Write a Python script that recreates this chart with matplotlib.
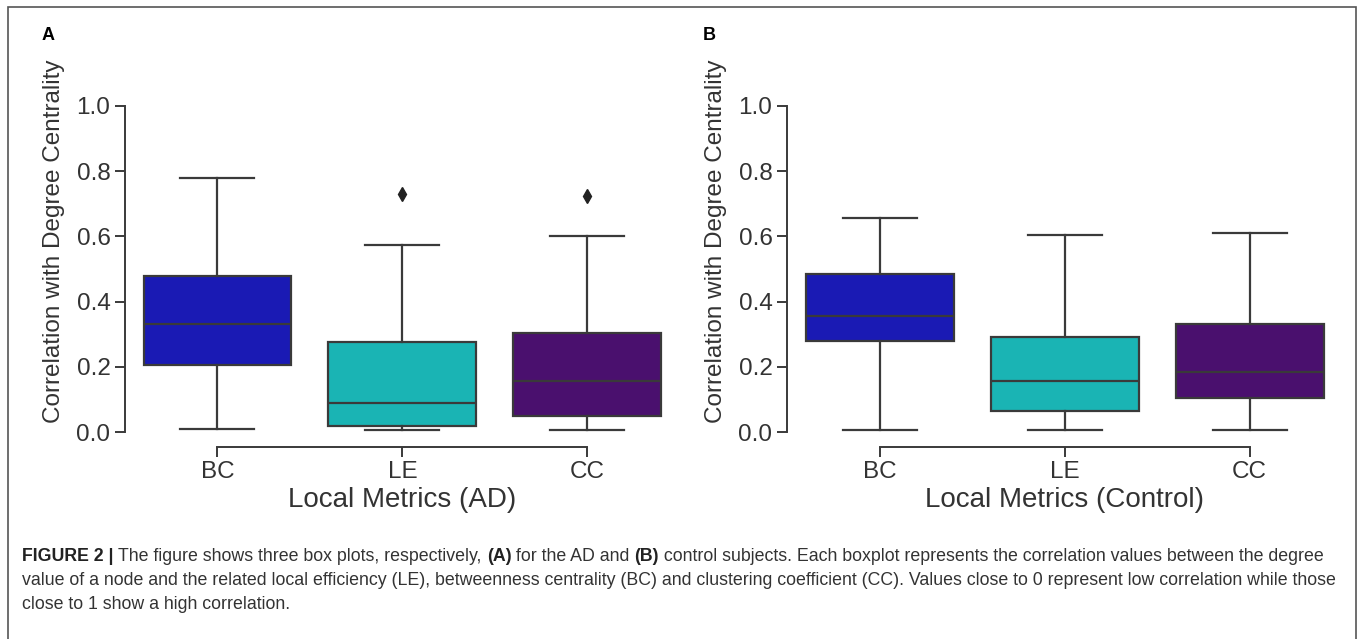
import matplotlib.pyplot as plt
from matplotlib.patches import Rectangle

plt.rcParams['font.family'] = ['Liberation Sans', 'DejaVu Sans']

metrics = ['BC', 'LE', 'CC']
colors = ['#1a1ab4', '#1ab4b4', '#4a106e']

# AD group: whisker low, Q1, median, Q3, whisker high, outliers
ad_whislo = [0.01, 0.005, 0.005]
ad_q1 = [0.205, 0.02, 0.048]
ad_med = [0.33, 0.09, 0.155]
ad_q3 = [0.48, 0.275, 0.305]
ad_whishi = [0.78, 0.575, 0.60]
ad_fliers = [[], [0.73], [0.725]]

# Control group
ct_whislo = [0.005, 0.005, 0.005]
ct_q1 = [0.28, 0.065, 0.105]
ct_med = [0.355, 0.155, 0.185]
ct_q3 = [0.485, 0.29, 0.33]
ct_whishi = [0.655, 0.605, 0.61]
ct_fliers = [[], [], []]

yticks = [0.0, 0.2, 0.4, 0.6, 0.8, 1.0]

W, H = 1363, 639
fig = plt.figure(figsize=(W / 100, H / 100), dpi=100)
line_c = '#3a3a3a'


def draw_panel(ax, lo, q1, med, q3, hi, fl, xlabel):
    stats = []
    for i in range(len(metrics)):
        stats.append(dict(whislo=lo[i], q1=q1[i], med=med[i], q3=q3[i],
                          whishi=hi[i], fliers=fl[i], label=metrics[i]))
    bp = ax.bxp(stats, positions=range(len(metrics)), widths=0.8,
                patch_artist=True, showfliers=True,
                boxprops=dict(edgecolor=line_c, linewidth=1.6),
                medianprops=dict(color=line_c, linewidth=1.6),
                whiskerprops=dict(color=line_c, linewidth=1.6),
                capprops=dict(color=line_c, linewidth=1.6),
                capwidths=0.4,
                flierprops=dict(marker='d', markerfacecolor='#222222',
                                markeredgecolor='#222222', markersize=7))
    for patch, c in zip(bp['boxes'], colors):
        patch.set_facecolor(c)
    ax.set_xlim(-0.5, 2.5)
    ax.set_ylim(-0.045, 1.0)
    ax.set_yticks(yticks)
    ax.set_yticklabels(['%.1f' % t for t in yticks])
    ax.spines['top'].set_visible(False)
    ax.spines['right'].set_visible(False)
    ax.spines['left'].set_bounds(0, 1)
    ax.spines['bottom'].set_bounds(0, 2)
    for s in ['left', 'bottom']:
        ax.spines[s].set_color(line_c)
        ax.spines[s].set_linewidth(1.4)
    ax.tick_params(colors=line_c, width=1.4, length=7, labelsize=17.5,
                   labelcolor='#333333')
    ax.set_ylabel('Correlation with Degree Centrality', fontsize=17.5,
                  color='#333333', labelpad=8)
    ax.yaxis.label.set_y(0.604)
    ax.set_xlabel(xlabel, fontsize=20, color='#333333', labelpad=3)


ax1 = fig.add_axes([125 / W, 1 - 446.7 / H, 555 / W, 340.7 / H])
ax2 = fig.add_axes([787 / W, 1 - 446.7 / H, 555 / W, 340.7 / H])
draw_panel(ax1, ad_whislo, ad_q1, ad_med, ad_q3, ad_whishi, ad_fliers,
           'Local Metrics (AD)')
draw_panel(ax2, ct_whislo, ct_q1, ct_med, ct_q3, ct_whishi, ct_fliers,
           'Local Metrics (Control)')

fig.text(42 / W, 1 - 36 / H, 'A', fontsize=13, fontweight='bold', va='center')
fig.text(703 / W, 1 - 36 / H, 'B', fontsize=13, fontweight='bold', va='center')

# frame around the figure
fig.patches.append(Rectangle((8 / W, -0.05), (1356 - 8) / W, 1.05 - 7 / H,
                             transform=fig.transFigure, fill=False,
                             edgecolor='#555555', linewidth=1.2))

# caption with mixed weights
caption = [
    [('FIGURE 2 | ', 'bold'), ('The figure shows three box plots, respectively, ', 'normal'),
     ('(A)', 'bold'), (' for the AD and ', 'normal'), ('(B)', 'bold'),
     (' control subjects. Each boxplot represents the correlation values between the degree', 'normal')],
    [('value of a node and the related local efficiency (LE), betweenness centrality (BC) '
      'and clustering coefficient (CC). Values close to 0 represent low correlation while those', 'normal')],
    [('close to 1 show a high correlation.', 'normal')],
]
fig.canvas.draw()
renderer = fig.canvas.get_renderer()
line_y = [561, 585, 609]
for runs, yy in zip(caption, line_y):
    x = 22
    for txt, wt in runs:
        t = fig.text(x / W, 1 - yy / H, txt, fontsize=12.8, fontweight=wt,
                     color='#222222' if wt == 'bold' else '#333333',
                     va='baseline')
        x = t.get_window_extent(renderer).x1

fig.savefig('out.png', dpi=100)
